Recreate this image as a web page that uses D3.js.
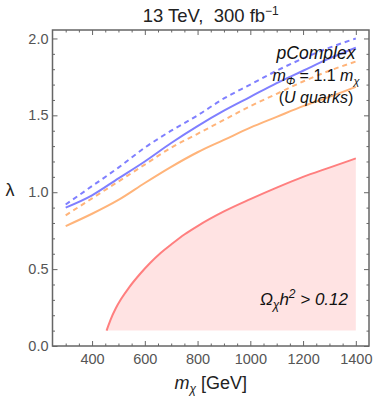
<!DOCTYPE html>
<html lang="en">
<head>
<meta charset="UTF-8" />
<script src="https://d3js.org/d3.v7.min.js"></script>
<title>pComplex reach</title>
<style>
  body { margin: 0; background: #fff; }
  text { font-family: "Liberation Sans", Arial, sans-serif; }
</style>
</head>
<body>
<script>
// chart data
var mass = [300, 400, 500, 600, 700, 800, 900, 1000, 1100, 1200, 1300, 1400];
var blueDashed   = [0.92, 1.04, 1.16, 1.29, 1.40, 1.50, 1.61, 1.70, 1.79, 1.87, 1.94, 2.00];
var blueSolid    = [0.90, 0.98, 1.09, 1.20, 1.32, 1.43, 1.53, 1.62, 1.71, 1.79, 1.87, 1.94];
var orangeDashed = [0.85, 0.96, 1.07, 1.18, 1.29, 1.38, 1.47, 1.56, 1.64, 1.72, 1.79, 1.85];
var orangeSolid  = [0.78, 0.86, 0.95, 1.06, 1.165, 1.26, 1.34, 1.42, 1.49, 1.56, 1.62, 1.685];
var relicMass = [455, 470, 490, 510, 540, 580, 620, 660, 700, 750, 800, 900, 1000, 1100, 1200, 1300, 1400];
var relicLam  = [0.10, 0.17, 0.245, 0.305, 0.38, 0.465, 0.54, 0.605, 0.66, 0.725, 0.78, 0.875, 0.955, 1.03, 1.10, 1.16, 1.22];
var relicFloor = 0.1;
var xTicks = [400, 600, 800, 1000, 1200, 1400];
var yTicks = [0, 0.5, 1.0, 1.5, 2.0];

var width = 374, height = 398;
var padL = 52.5, padR = 369, padT = 30, padB = 346;

var svg = d3.select("body").append("svg").attr("width", width).attr("height", height);

var x = d3.scaleLinear().domain([250, 1450]).range([padL, padR]);
var y = d3.scaleLinear().domain([0, 2.055]).range([padB, padT]);

// shaded relic region
var relic = relicMass.map(function(m, i){ return [m, relicLam[i]]; });
var area = d3.area().x(function(d){ return x(d[0]); }).y0(y(relicFloor)).y1(function(d){ return y(d[1]); }).curve(d3.curveMonotoneX);
svg.append("path").datum(relic).attr("d", area).attr("fill", "#ffe3e3");

var line = d3.line().x(function(d){ return x(d[0]); }).y(function(d){ return y(d[1]); }).curve(d3.curveMonotoneX);
svg.append("path").datum(relic).attr("d", line).attr("fill", "none").attr("stroke", "#ff7f7f").attr("stroke-width", 2);

var series = [
  {vals: orangeSolid, color: "#ffb47a", dash: null},
  {vals: orangeDashed, color: "#ffb47a", dash: "5,4"},
  {vals: blueSolid, color: "#7f7fff", dash: null},
  {vals: blueDashed, color: "#7f7fff", dash: "5,4"}
];
series.forEach(function(s){
  var pts = mass.map(function(m, i){ return [m, s.vals[i]]; });
  svg.append("path").datum(pts).attr("d", line).attr("fill", "none")
    .attr("stroke", s.color).attr("stroke-width", 2)
    .attr("stroke-dasharray", s.dash);
});

// frame + ticks
var frameColor = "#666";
var xMinor = d3.range(300, 1450, 50).filter(function(v){ return xTicks.indexOf(v) < 0; });
var yMinor = d3.range(0, 21).filter(function(v){ return v % 5 !== 0; }).map(function(v){ return v / 10; });

function styleAxis(g){
  g.select(".domain").remove();
  g.selectAll(".tick line").attr("stroke", frameColor).attr("stroke-width", 1);
  g.selectAll(".tick text").attr("fill", "#555").attr("font-size", 14.5);
}

svg.append("g").attr("transform", "translate(0," + padB + ")")
  .call(d3.axisBottom(x).tickValues(xTicks).tickSize(-5).tickPadding(8).tickFormat(d3.format("d"))).call(styleAxis);
svg.append("g").attr("transform", "translate(0," + padB + ")")
  .call(d3.axisBottom(x).tickValues(xMinor).tickSize(-2.5).tickFormat("")).call(styleAxis);
svg.append("g").attr("transform", "translate(0," + padT + ")")
  .call(d3.axisTop(x).tickValues(xTicks).tickSize(-5).tickFormat("")).call(styleAxis);
svg.append("g").attr("transform", "translate(0," + padT + ")")
  .call(d3.axisTop(x).tickValues(xMinor).tickSize(-2.5).tickFormat("")).call(styleAxis);

svg.append("g").attr("transform", "translate(" + padL + ",0)")
  .call(d3.axisLeft(y).tickValues(yTicks).tickSize(-5).tickPadding(4).tickFormat(d3.format(".1f"))).call(styleAxis);
svg.append("g").attr("transform", "translate(" + padL + ",0)")
  .call(d3.axisLeft(y).tickValues(yMinor).tickSize(-2.5).tickFormat("")).call(styleAxis);
svg.append("g").attr("transform", "translate(" + padR + ",0)")
  .call(d3.axisRight(y).tickValues(yTicks).tickSize(-5).tickFormat("")).call(styleAxis);
svg.append("g").attr("transform", "translate(" + padR + ",0)")
  .call(d3.axisRight(y).tickValues(yMinor).tickSize(-2.5).tickFormat("")).call(styleAxis);

svg.append("rect").attr("x", padL).attr("y", padT).attr("width", padR - padL).attr("height", padB - padT)
  .attr("fill", "none").attr("stroke", frameColor).attr("stroke-width", 1.5);

// title
var title = svg.append("text").attr("x", (padL + padR) / 2).attr("y", 22).attr("text-anchor", "middle")
  .attr("font-size", 18.5).attr("fill", "#222");
title.append("tspan").text("13 TeV,\u00a0\u00a0300 fb");
title.append("tspan").attr("dy", -7).attr("font-size", 12).text("\u22121");

// axis titles
var xl = svg.append("text").attr("x", (padL + padR) / 2).attr("y", 389).attr("text-anchor", "middle")
  .attr("font-size", 18).attr("fill", "#222");
xl.append("tspan").attr("font-style", "italic").text("m");
xl.append("tspan").attr("font-style", "italic").attr("font-size", 12).attr("dy", 4).text("\u03c7");
xl.append("tspan").attr("dy", -4).text(" [GeV]");

svg.append("text").attr("x", 10).attr("y", 196).attr("text-anchor", "middle")
  .attr("font-size", 18).attr("fill", "#222").text("\u03bb");

// annotations
var cx = 316;
svg.append("text").attr("x", cx).attr("y", 59).attr("text-anchor", "middle")
  .attr("font-size", 17.5).attr("font-style", "italic").attr("fill", "#111").text("pComplex");
var ml = svg.append("text").attr("x", cx).attr("y", 81).attr("text-anchor", "middle")
  .attr("font-size", 16).attr("fill", "#111");
ml.append("tspan").attr("font-style", "italic").text("m");
ml.append("tspan").attr("font-style", "italic").attr("font-size", 11).attr("dy", 4).text("\u03a6");
ml.append("tspan").attr("dy", -4).text(" = 1.1 ");
ml.append("tspan").attr("font-style", "italic").text("m");
ml.append("tspan").attr("font-style", "italic").attr("font-size", 11).attr("dy", 4).text("\u03c7");
var uq = svg.append("text").attr("x", cx).attr("y", 103).attr("text-anchor", "middle")
  .attr("font-size", 16).attr("fill", "#111");
uq.append("tspan").text("(");
uq.append("tspan").attr("font-style", "italic").text("U quarks");
uq.append("tspan").text(")");

var om = svg.append("text").attr("x", 348).attr("y", 305).attr("text-anchor", "end")
  .attr("font-size", 17).attr("font-style", "italic").attr("fill", "#111");
om.append("tspan").text("\u03a9");
om.append("tspan").attr("font-size", 12).attr("dy", 4).text("\u03c7");
om.append("tspan").attr("dy", -4).text("h");
om.append("tspan").attr("font-size", 12).attr("dy", -7).text("2");
om.append("tspan").attr("dy", 7).text(" > 0.12");
</script>
</body>
</html>
